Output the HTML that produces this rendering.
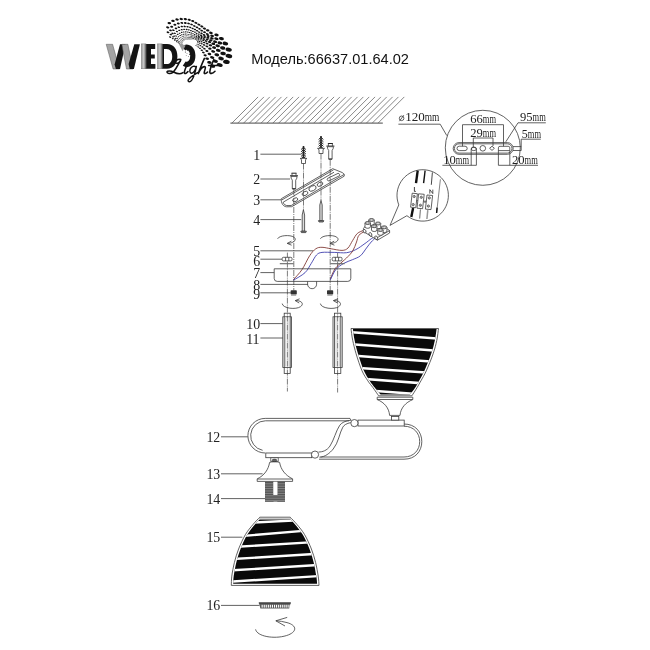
<!DOCTYPE html>
<html><head><meta charset="utf-8"><title>Wedo Light 66637.01.64.02</title>
<style>
html,body{margin:0;padding:0;background:#fff;}
body{width:650px;height:650px;overflow:hidden;font-family:"Liberation Sans",sans-serif;}
svg{display:block}
.ln{fill:none;stroke:#3a3a3a;stroke-width:0.8}
.lt{fill:none;stroke:#555;stroke-width:0.6}
.wf{fill:#fff;stroke:#3a3a3a;stroke-width:0.8}
text{filter:grayscale(1)}
.num{font-family:"Liberation Serif",serif;font-size:13.9px;fill:#222}
.dim{font-family:"Liberation Serif",serif;font-size:12.5px;fill:#222}
.dash{fill:none;stroke:#444;stroke-width:0.7;stroke-dasharray:6 1 1 1}
</style></head><body>
<svg width="650" height="650" viewBox="0 0 650 650">
<defs>
<linearGradient id="g1" x1="0" x2="1" y1="0" y2="0"><stop offset="0" stop-color="#999"/><stop offset="0.5" stop-color="#ccc"/><stop offset="1" stop-color="#555"/></linearGradient>
<linearGradient id="g2" x1="0" x2="1" y1="0" y2="0"><stop offset="0" stop-color="#111"/><stop offset="1" stop-color="#555"/></linearGradient>
<linearGradient id="gth" x1="0" x2="0" y1="0" y2="1"><stop offset="0" stop-color="#555"/><stop offset="1" stop-color="#888"/></linearGradient>
</defs>
<rect width="650" height="650" fill="#fff"/>

<g id="logo">
<g fill="#111"><ellipse cx="184.0" cy="45.6" rx="0.28" ry="0.17" transform="rotate(12 184.0 45.6)"/><ellipse cx="183.2" cy="45.4" rx="0.32" ry="0.20" transform="rotate(12 183.2 45.4)"/><ellipse cx="182.2" cy="45.1" rx="0.38" ry="0.24" transform="rotate(12 182.2 45.1)"/><ellipse cx="181.0" cy="44.7" rx="0.45" ry="0.28" transform="rotate(12 181.0 44.7)"/><ellipse cx="179.7" cy="44.0" rx="0.53" ry="0.33" transform="rotate(12 179.7 44.0)"/><ellipse cx="178.3" cy="43.0" rx="0.62" ry="0.38" transform="rotate(12 178.3 43.0)"/><ellipse cx="176.7" cy="41.8" rx="0.73" ry="0.45" transform="rotate(12 176.7 41.8)"/><ellipse cx="174.8" cy="40.2" rx="0.86" ry="0.53" transform="rotate(12 174.8 40.2)"/><ellipse cx="172.8" cy="38.6" rx="1.01" ry="0.63" transform="rotate(12 172.8 38.6)"/><ellipse cx="170.1" cy="37.1" rx="1.19" ry="0.74" transform="rotate(12 170.1 37.1)"/><ellipse cx="183.0" cy="45.0" rx="0.34" ry="0.21" transform="rotate(12 183.0 45.0)"/><ellipse cx="182.0" cy="44.6" rx="0.40" ry="0.25" transform="rotate(12 182.0 44.6)"/><ellipse cx="180.9" cy="44.1" rx="0.47" ry="0.29" transform="rotate(12 180.9 44.1)"/><ellipse cx="179.6" cy="43.3" rx="0.55" ry="0.34" transform="rotate(12 179.6 43.3)"/><ellipse cx="178.2" cy="42.3" rx="0.65" ry="0.40" transform="rotate(12 178.2 42.3)"/><ellipse cx="176.6" cy="40.9" rx="0.76" ry="0.47" transform="rotate(12 176.6 40.9)"/><ellipse cx="174.9" cy="39.1" rx="0.89" ry="0.55" transform="rotate(12 174.9 39.1)"/><ellipse cx="173.0" cy="36.9" rx="1.05" ry="0.65" transform="rotate(12 173.0 36.9)"/><ellipse cx="170.8" cy="34.6" rx="1.24" ry="0.77" transform="rotate(12 170.8 34.6)"/><ellipse cx="168.0" cy="32.3" rx="1.45" ry="0.90" transform="rotate(12 168.0 32.3)"/><ellipse cx="182.3" cy="44.1" rx="0.39" ry="0.24" transform="rotate(12 182.3 44.1)"/><ellipse cx="181.2" cy="43.5" rx="0.45" ry="0.28" transform="rotate(12 181.2 43.5)"/><ellipse cx="180.0" cy="42.7" rx="0.54" ry="0.33" transform="rotate(12 180.0 42.7)"/><ellipse cx="178.7" cy="41.7" rx="0.63" ry="0.39" transform="rotate(12 178.7 41.7)"/><ellipse cx="177.3" cy="40.3" rx="0.74" ry="0.46" transform="rotate(12 177.3 40.3)"/><ellipse cx="175.8" cy="38.4" rx="0.87" ry="0.54" transform="rotate(12 175.8 38.4)"/><ellipse cx="174.2" cy="36.1" rx="1.03" ry="0.64" transform="rotate(12 174.2 36.1)"/><ellipse cx="172.5" cy="33.4" rx="1.21" ry="0.75" transform="rotate(12 172.5 33.4)"/><ellipse cx="170.5" cy="30.4" rx="1.42" ry="0.88" transform="rotate(12 170.5 30.4)"/><ellipse cx="167.7" cy="27.4" rx="1.67" ry="1.03" transform="rotate(12 167.7 27.4)"/><ellipse cx="182.0" cy="43.0" rx="0.42" ry="0.26" transform="rotate(12 182.0 43.0)"/><ellipse cx="181.0" cy="42.3" rx="0.49" ry="0.31" transform="rotate(12 181.0 42.3)"/><ellipse cx="179.8" cy="41.3" rx="0.58" ry="0.36" transform="rotate(12 179.8 41.3)"/><ellipse cx="178.6" cy="39.9" rx="0.68" ry="0.42" transform="rotate(12 178.6 39.9)"/><ellipse cx="177.4" cy="38.2" rx="0.80" ry="0.50" transform="rotate(12 177.4 38.2)"/><ellipse cx="176.1" cy="36.0" rx="0.95" ry="0.59" transform="rotate(12 176.1 36.0)"/><ellipse cx="174.8" cy="33.3" rx="1.11" ry="0.69" transform="rotate(12 174.8 33.3)"/><ellipse cx="173.4" cy="30.2" rx="1.31" ry="0.81" transform="rotate(12 173.4 30.2)"/><ellipse cx="171.7" cy="26.7" rx="1.54" ry="0.96" transform="rotate(12 171.7 26.7)"/><ellipse cx="169.3" cy="23.1" rx="1.81" ry="1.12" transform="rotate(12 169.3 23.1)"/><ellipse cx="182.4" cy="42.1" rx="0.42" ry="0.26" transform="rotate(12 182.4 42.1)"/><ellipse cx="181.5" cy="41.2" rx="0.49" ry="0.31" transform="rotate(12 181.5 41.2)"/><ellipse cx="180.6" cy="40.1" rx="0.58" ry="0.36" transform="rotate(12 180.6 40.1)"/><ellipse cx="179.6" cy="38.6" rx="0.68" ry="0.42" transform="rotate(12 179.6 38.6)"/><ellipse cx="178.6" cy="36.7" rx="0.80" ry="0.50" transform="rotate(12 178.6 36.7)"/><ellipse cx="177.7" cy="34.4" rx="0.94" ry="0.58" transform="rotate(12 177.7 34.4)"/><ellipse cx="176.9" cy="31.6" rx="1.11" ry="0.69" transform="rotate(12 176.9 31.6)"/><ellipse cx="176.0" cy="28.4" rx="1.30" ry="0.81" transform="rotate(12 176.0 28.4)"/><ellipse cx="174.9" cy="24.7" rx="1.54" ry="0.95" transform="rotate(12 174.9 24.7)"/><ellipse cx="173.0" cy="20.9" rx="1.81" ry="1.12" transform="rotate(12 173.0 20.9)"/><ellipse cx="183.0" cy="41.3" rx="0.41" ry="0.26" transform="rotate(12 183.0 41.3)"/><ellipse cx="182.3" cy="40.4" rx="0.49" ry="0.30" transform="rotate(12 182.3 40.4)"/><ellipse cx="181.5" cy="39.1" rx="0.57" ry="0.35" transform="rotate(12 181.5 39.1)"/><ellipse cx="180.8" cy="37.6" rx="0.67" ry="0.42" transform="rotate(12 180.8 37.6)"/><ellipse cx="180.2" cy="35.6" rx="0.79" ry="0.49" transform="rotate(12 180.2 35.6)"/><ellipse cx="179.6" cy="33.3" rx="0.93" ry="0.58" transform="rotate(12 179.6 33.3)"/><ellipse cx="179.2" cy="30.4" rx="1.09" ry="0.68" transform="rotate(12 179.2 30.4)"/><ellipse cx="178.8" cy="27.2" rx="1.29" ry="0.80" transform="rotate(12 178.8 27.2)"/><ellipse cx="178.3" cy="23.5" rx="1.51" ry="0.94" transform="rotate(12 178.3 23.5)"/><ellipse cx="177.1" cy="19.5" rx="1.78" ry="1.10" transform="rotate(12 177.1 19.5)"/><ellipse cx="183.7" cy="40.7" rx="0.41" ry="0.25" transform="rotate(12 183.7 40.7)"/><ellipse cx="183.2" cy="39.6" rx="0.48" ry="0.30" transform="rotate(12 183.2 39.6)"/><ellipse cx="182.6" cy="38.3" rx="0.56" ry="0.35" transform="rotate(12 182.6 38.3)"/><ellipse cx="182.2" cy="36.7" rx="0.66" ry="0.41" transform="rotate(12 182.2 36.7)"/><ellipse cx="181.8" cy="34.8" rx="0.78" ry="0.48" transform="rotate(12 181.8 34.8)"/><ellipse cx="181.7" cy="32.4" rx="0.91" ry="0.57" transform="rotate(12 181.7 32.4)"/><ellipse cx="181.7" cy="29.7" rx="1.07" ry="0.67" transform="rotate(12 181.7 29.7)"/><ellipse cx="181.8" cy="26.5" rx="1.26" ry="0.78" transform="rotate(12 181.8 26.5)"/><ellipse cx="181.8" cy="22.9" rx="1.49" ry="0.92" transform="rotate(12 181.8 22.9)"/><ellipse cx="181.3" cy="19.0" rx="1.75" ry="1.08" transform="rotate(12 181.3 19.0)"/><ellipse cx="184.5" cy="40.1" rx="0.40" ry="0.25" transform="rotate(12 184.5 40.1)"/><ellipse cx="184.1" cy="39.1" rx="0.47" ry="0.29" transform="rotate(12 184.1 39.1)"/><ellipse cx="183.8" cy="37.8" rx="0.55" ry="0.34" transform="rotate(12 183.8 37.8)"/><ellipse cx="183.6" cy="36.2" rx="0.65" ry="0.40" transform="rotate(12 183.6 36.2)"/><ellipse cx="183.6" cy="34.3" rx="0.76" ry="0.47" transform="rotate(12 183.6 34.3)"/><ellipse cx="183.7" cy="32.0" rx="0.89" ry="0.55" transform="rotate(12 183.7 32.0)"/><ellipse cx="184.1" cy="29.4" rx="1.05" ry="0.65" transform="rotate(12 184.1 29.4)"/><ellipse cx="184.7" cy="26.4" rx="1.24" ry="0.77" transform="rotate(12 184.7 26.4)"/><ellipse cx="185.3" cy="23.0" rx="1.46" ry="0.90" transform="rotate(12 185.3 23.0)"/><ellipse cx="185.3" cy="19.1" rx="1.71" ry="1.06" transform="rotate(12 185.3 19.1)"/><ellipse cx="185.3" cy="39.8" rx="0.39" ry="0.24" transform="rotate(12 185.3 39.8)"/><ellipse cx="185.1" cy="38.7" rx="0.46" ry="0.28" transform="rotate(12 185.1 38.7)"/><ellipse cx="185.0" cy="37.4" rx="0.54" ry="0.33" transform="rotate(12 185.0 37.4)"/><ellipse cx="185.1" cy="35.8" rx="0.63" ry="0.39" transform="rotate(12 185.1 35.8)"/><ellipse cx="185.3" cy="34.0" rx="0.74" ry="0.46" transform="rotate(12 185.3 34.0)"/><ellipse cx="185.8" cy="31.9" rx="0.87" ry="0.54" transform="rotate(12 185.8 31.9)"/><ellipse cx="186.6" cy="29.5" rx="1.03" ry="0.64" transform="rotate(12 186.6 29.5)"/><ellipse cx="187.5" cy="26.7" rx="1.21" ry="0.75" transform="rotate(12 187.5 26.7)"/><ellipse cx="188.6" cy="23.5" rx="1.42" ry="0.88" transform="rotate(12 188.6 23.5)"/><ellipse cx="189.2" cy="19.8" rx="1.67" ry="1.04" transform="rotate(12 189.2 19.8)"/><ellipse cx="186.2" cy="39.5" rx="0.38" ry="0.23" transform="rotate(12 186.2 39.5)"/><ellipse cx="186.1" cy="38.5" rx="0.45" ry="0.28" transform="rotate(12 186.1 38.5)"/><ellipse cx="186.2" cy="37.2" rx="0.52" ry="0.32" transform="rotate(12 186.2 37.2)"/><ellipse cx="186.5" cy="35.8" rx="0.62" ry="0.38" transform="rotate(12 186.5 35.8)"/><ellipse cx="187.0" cy="34.1" rx="0.73" ry="0.45" transform="rotate(12 187.0 34.1)"/><ellipse cx="187.8" cy="32.1" rx="0.85" ry="0.53" transform="rotate(12 187.8 32.1)"/><ellipse cx="188.8" cy="29.9" rx="1.00" ry="0.62" transform="rotate(12 188.8 29.9)"/><ellipse cx="190.2" cy="27.4" rx="1.18" ry="0.73" transform="rotate(12 190.2 27.4)"/><ellipse cx="191.6" cy="24.5" rx="1.39" ry="0.86" transform="rotate(12 191.6 24.5)"/><ellipse cx="192.7" cy="21.1" rx="1.63" ry="1.01" transform="rotate(12 192.7 21.1)"/><ellipse cx="187.0" cy="39.4" rx="0.37" ry="0.23" transform="rotate(12 187.0 39.4)"/><ellipse cx="187.1" cy="38.4" rx="0.43" ry="0.27" transform="rotate(12 187.1 38.4)"/><ellipse cx="187.4" cy="37.3" rx="0.51" ry="0.32" transform="rotate(12 187.4 37.3)"/><ellipse cx="187.9" cy="35.9" rx="0.60" ry="0.37" transform="rotate(12 187.9 35.9)"/><ellipse cx="188.6" cy="34.4" rx="0.71" ry="0.44" transform="rotate(12 188.6 34.4)"/><ellipse cx="189.6" cy="32.6" rx="0.83" ry="0.52" transform="rotate(12 189.6 32.6)"/><ellipse cx="190.9" cy="30.7" rx="0.98" ry="0.61" transform="rotate(12 190.9 30.7)"/><ellipse cx="192.6" cy="28.5" rx="1.15" ry="0.71" transform="rotate(12 192.6 28.5)"/><ellipse cx="194.4" cy="26.0" rx="1.35" ry="0.84" transform="rotate(12 194.4 26.0)"/><ellipse cx="195.9" cy="22.9" rx="1.59" ry="0.99" transform="rotate(12 195.9 22.9)"/><ellipse cx="187.8" cy="39.3" rx="0.37" ry="0.23" transform="rotate(12 187.8 39.3)"/><ellipse cx="188.1" cy="38.4" rx="0.43" ry="0.27" transform="rotate(12 188.1 38.4)"/><ellipse cx="188.5" cy="37.3" rx="0.51" ry="0.32" transform="rotate(12 188.5 37.3)"/><ellipse cx="189.1" cy="36.0" rx="0.60" ry="0.37" transform="rotate(12 189.1 36.0)"/><ellipse cx="190.1" cy="34.6" rx="0.71" ry="0.44" transform="rotate(12 190.1 34.6)"/><ellipse cx="191.3" cy="33.1" rx="0.83" ry="0.52" transform="rotate(12 191.3 33.1)"/><ellipse cx="192.9" cy="31.4" rx="0.98" ry="0.61" transform="rotate(12 192.9 31.4)"/><ellipse cx="194.9" cy="29.5" rx="1.15" ry="0.71" transform="rotate(12 194.9 29.5)"/><ellipse cx="197.0" cy="27.4" rx="1.35" ry="0.84" transform="rotate(12 197.0 27.4)"/><ellipse cx="198.9" cy="24.6" rx="1.59" ry="0.99" transform="rotate(12 198.9 24.6)"/><ellipse cx="188.6" cy="39.3" rx="0.37" ry="0.23" transform="rotate(12 188.6 39.3)"/><ellipse cx="189.0" cy="38.4" rx="0.44" ry="0.27" transform="rotate(12 189.0 38.4)"/><ellipse cx="189.6" cy="37.4" rx="0.52" ry="0.32" transform="rotate(12 189.6 37.4)"/><ellipse cx="190.4" cy="36.2" rx="0.61" ry="0.38" transform="rotate(12 190.4 36.2)"/><ellipse cx="191.5" cy="35.0" rx="0.72" ry="0.44" transform="rotate(12 191.5 35.0)"/><ellipse cx="193.0" cy="33.7" rx="0.84" ry="0.52" transform="rotate(12 193.0 33.7)"/><ellipse cx="194.9" cy="32.2" rx="0.99" ry="0.61" transform="rotate(12 194.9 32.2)"/><ellipse cx="197.0" cy="30.7" rx="1.17" ry="0.72" transform="rotate(12 197.0 30.7)"/><ellipse cx="199.5" cy="28.8" rx="1.37" ry="0.85" transform="rotate(12 199.5 28.8)"/><ellipse cx="201.8" cy="26.4" rx="1.61" ry="1.00" transform="rotate(12 201.8 26.4)"/><ellipse cx="189.4" cy="39.4" rx="0.38" ry="0.24" transform="rotate(12 189.4 39.4)"/><ellipse cx="189.9" cy="38.5" rx="0.45" ry="0.28" transform="rotate(12 189.9 38.5)"/><ellipse cx="190.7" cy="37.6" rx="0.52" ry="0.33" transform="rotate(12 190.7 37.6)"/><ellipse cx="191.6" cy="36.6" rx="0.62" ry="0.38" transform="rotate(12 191.6 36.6)"/><ellipse cx="193.0" cy="35.6" rx="0.73" ry="0.45" transform="rotate(12 193.0 35.6)"/><ellipse cx="194.6" cy="34.5" rx="0.85" ry="0.53" transform="rotate(12 194.6 34.5)"/><ellipse cx="196.6" cy="33.3" rx="1.01" ry="0.62" transform="rotate(12 196.6 33.3)"/><ellipse cx="199.0" cy="32.1" rx="1.18" ry="0.73" transform="rotate(12 199.0 32.1)"/><ellipse cx="201.7" cy="30.7" rx="1.39" ry="0.86" transform="rotate(12 201.7 30.7)"/><ellipse cx="204.4" cy="28.6" rx="1.64" ry="1.01" transform="rotate(12 204.4 28.6)"/><ellipse cx="190.2" cy="39.3" rx="0.41" ry="0.25" transform="rotate(12 190.2 39.3)"/><ellipse cx="190.9" cy="38.5" rx="0.48" ry="0.30" transform="rotate(12 190.9 38.5)"/><ellipse cx="191.8" cy="37.6" rx="0.56" ry="0.35" transform="rotate(12 191.8 37.6)"/><ellipse cx="193.0" cy="36.8" rx="0.66" ry="0.41" transform="rotate(12 193.0 36.8)"/><ellipse cx="194.6" cy="35.9" rx="0.78" ry="0.48" transform="rotate(12 194.6 35.9)"/><ellipse cx="196.5" cy="35.0" rx="0.92" ry="0.57" transform="rotate(12 196.5 35.0)"/><ellipse cx="198.8" cy="34.1" rx="1.08" ry="0.67" transform="rotate(12 198.8 34.1)"/><ellipse cx="201.5" cy="33.3" rx="1.27" ry="0.79" transform="rotate(12 201.5 33.3)"/><ellipse cx="204.5" cy="32.2" rx="1.49" ry="0.92" transform="rotate(12 204.5 32.2)"/><ellipse cx="207.7" cy="30.4" rx="1.75" ry="1.09" transform="rotate(12 207.7 30.4)"/><ellipse cx="191.2" cy="39.3" rx="0.44" ry="0.27" transform="rotate(12 191.2 39.3)"/><ellipse cx="192.0" cy="38.6" rx="0.51" ry="0.32" transform="rotate(12 192.0 38.6)"/><ellipse cx="193.1" cy="37.9" rx="0.60" ry="0.37" transform="rotate(12 193.1 37.9)"/><ellipse cx="194.5" cy="37.1" rx="0.71" ry="0.44" transform="rotate(12 194.5 37.1)"/><ellipse cx="196.3" cy="36.4" rx="0.84" ry="0.52" transform="rotate(12 196.3 36.4)"/><ellipse cx="198.4" cy="35.8" rx="0.98" ry="0.61" transform="rotate(12 198.4 35.8)"/><ellipse cx="200.9" cy="35.3" rx="1.16" ry="0.72" transform="rotate(12 200.9 35.3)"/><ellipse cx="203.9" cy="34.8" rx="1.36" ry="0.84" transform="rotate(12 203.9 34.8)"/><ellipse cx="207.3" cy="34.1" rx="1.60" ry="0.99" transform="rotate(12 207.3 34.1)"/><ellipse cx="210.9" cy="32.8" rx="1.88" ry="1.17" transform="rotate(12 210.9 32.8)"/><ellipse cx="192.5" cy="38.9" rx="0.52" ry="0.32" transform="rotate(12 192.5 38.9)"/><ellipse cx="193.6" cy="38.3" rx="0.61" ry="0.38" transform="rotate(12 193.6 38.3)"/><ellipse cx="195.0" cy="37.6" rx="0.72" ry="0.44" transform="rotate(12 195.0 37.6)"/><ellipse cx="196.8" cy="37.0" rx="0.84" ry="0.52" transform="rotate(12 196.8 37.0)"/><ellipse cx="198.9" cy="36.5" rx="0.99" ry="0.62" transform="rotate(12 198.9 36.5)"/><ellipse cx="201.5" cy="36.2" rx="1.17" ry="0.72" transform="rotate(12 201.5 36.2)"/><ellipse cx="204.6" cy="36.0" rx="1.37" ry="0.85" transform="rotate(12 204.6 36.0)"/><ellipse cx="208.1" cy="36.0" rx="1.62" ry="1.00" transform="rotate(12 208.1 36.0)"/><ellipse cx="212.1" cy="35.8" rx="1.90" ry="1.18" transform="rotate(12 212.1 35.8)"/><ellipse cx="216.5" cy="34.9" rx="2.24" ry="1.39" transform="rotate(12 216.5 34.9)"/><ellipse cx="193.9" cy="39.0" rx="0.59" ry="0.37" transform="rotate(12 193.9 39.0)"/><ellipse cx="195.3" cy="38.4" rx="0.70" ry="0.43" transform="rotate(12 195.3 38.4)"/><ellipse cx="197.0" cy="37.9" rx="0.82" ry="0.51" transform="rotate(12 197.0 37.9)"/><ellipse cx="199.0" cy="37.5" rx="0.97" ry="0.60" transform="rotate(12 199.0 37.5)"/><ellipse cx="201.5" cy="37.4" rx="1.14" ry="0.71" transform="rotate(12 201.5 37.4)"/><ellipse cx="204.5" cy="37.4" rx="1.34" ry="0.83" transform="rotate(12 204.5 37.4)"/><ellipse cx="207.9" cy="37.8" rx="1.57" ry="0.98" transform="rotate(12 207.9 37.8)"/><ellipse cx="211.9" cy="38.3" rx="1.85" ry="1.15" transform="rotate(12 211.9 38.3)"/><ellipse cx="216.4" cy="38.8" rx="2.18" ry="1.35" transform="rotate(12 216.4 38.8)"/><ellipse cx="221.4" cy="38.6" rx="2.56" ry="1.59" transform="rotate(12 221.4 38.6)"/><ellipse cx="195.3" cy="39.4" rx="0.66" ry="0.41" transform="rotate(12 195.3 39.4)"/><ellipse cx="196.9" cy="39.0" rx="0.78" ry="0.48" transform="rotate(12 196.9 39.0)"/><ellipse cx="198.8" cy="38.7" rx="0.92" ry="0.57" transform="rotate(12 198.8 38.7)"/><ellipse cx="201.2" cy="38.7" rx="1.08" ry="0.67" transform="rotate(12 201.2 38.7)"/><ellipse cx="203.9" cy="38.9" rx="1.27" ry="0.79" transform="rotate(12 203.9 38.9)"/><ellipse cx="207.1" cy="39.4" rx="1.50" ry="0.93" transform="rotate(12 207.1 39.4)"/><ellipse cx="210.8" cy="40.4" rx="1.76" ry="1.09" transform="rotate(12 210.8 40.4)"/><ellipse cx="215.1" cy="41.7" rx="2.07" ry="1.28" transform="rotate(12 215.1 41.7)"/><ellipse cx="219.9" cy="42.9" rx="2.44" ry="1.51" transform="rotate(12 219.9 42.9)"/><ellipse cx="225.4" cy="43.5" rx="2.87" ry="1.78" transform="rotate(12 225.4 43.5)"/><ellipse cx="196.8" cy="40.1" rx="0.74" ry="0.46" transform="rotate(12 196.8 40.1)"/><ellipse cx="198.5" cy="39.9" rx="0.87" ry="0.54" transform="rotate(12 198.5 39.9)"/><ellipse cx="200.7" cy="40.0" rx="1.02" ry="0.63" transform="rotate(12 200.7 40.0)"/><ellipse cx="203.2" cy="40.3" rx="1.20" ry="0.74" transform="rotate(12 203.2 40.3)"/><ellipse cx="206.1" cy="41.0" rx="1.41" ry="0.87" transform="rotate(12 206.1 41.0)"/><ellipse cx="209.5" cy="42.1" rx="1.66" ry="1.03" transform="rotate(12 209.5 42.1)"/><ellipse cx="213.3" cy="43.8" rx="1.95" ry="1.21" transform="rotate(12 213.3 43.8)"/><ellipse cx="217.7" cy="45.8" rx="2.30" ry="1.42" transform="rotate(12 217.7 45.8)"/><ellipse cx="222.7" cy="48.0" rx="2.70" ry="1.68" transform="rotate(12 222.7 48.0)"/><ellipse cx="228.7" cy="49.6" rx="3.18" ry="1.97" transform="rotate(12 228.7 49.6)"/><ellipse cx="197.7" cy="41.3" rx="0.77" ry="0.48" transform="rotate(12 197.7 41.3)"/><ellipse cx="199.5" cy="41.4" rx="0.91" ry="0.56" transform="rotate(12 199.5 41.4)"/><ellipse cx="201.7" cy="41.8" rx="1.07" ry="0.66" transform="rotate(12 201.7 41.8)"/><ellipse cx="204.2" cy="42.5" rx="1.26" ry="0.78" transform="rotate(12 204.2 42.5)"/><ellipse cx="207.1" cy="43.6" rx="1.48" ry="0.92" transform="rotate(12 207.1 43.6)"/><ellipse cx="210.4" cy="45.3" rx="1.74" ry="1.08" transform="rotate(12 210.4 45.3)"/><ellipse cx="214.1" cy="47.6" rx="2.05" ry="1.27" transform="rotate(12 214.1 47.6)"/><ellipse cx="218.3" cy="50.4" rx="2.41" ry="1.50" transform="rotate(12 218.3 50.4)"/><ellipse cx="223.1" cy="53.5" rx="2.84" ry="1.76" transform="rotate(12 223.1 53.5)"/><ellipse cx="228.9" cy="56.0" rx="3.34" ry="2.07" transform="rotate(12 228.9 56.0)"/><ellipse cx="198.0" cy="42.7" rx="0.78" ry="0.48" transform="rotate(12 198.0 42.7)"/><ellipse cx="199.8" cy="43.1" rx="0.92" ry="0.57" transform="rotate(12 199.8 43.1)"/><ellipse cx="201.8" cy="43.8" rx="1.08" ry="0.67" transform="rotate(12 201.8 43.8)"/><ellipse cx="204.2" cy="44.9" rx="1.27" ry="0.79" transform="rotate(12 204.2 44.9)"/><ellipse cx="206.9" cy="46.4" rx="1.49" ry="0.92" transform="rotate(12 206.9 46.4)"/><ellipse cx="209.9" cy="48.6" rx="1.75" ry="1.09" transform="rotate(12 209.9 48.6)"/><ellipse cx="213.2" cy="51.4" rx="2.06" ry="1.28" transform="rotate(12 213.2 51.4)"/><ellipse cx="216.8" cy="54.8" rx="2.43" ry="1.50" transform="rotate(12 216.8 54.8)"/><ellipse cx="221.1" cy="58.5" rx="2.85" ry="1.77" transform="rotate(12 221.1 58.5)"/><ellipse cx="226.4" cy="61.9" rx="3.36" ry="2.08" transform="rotate(12 226.4 61.9)"/><ellipse cx="197.1" cy="44.2" rx="0.71" ry="0.44" transform="rotate(12 197.1 44.2)"/><ellipse cx="198.7" cy="44.8" rx="0.83" ry="0.51" transform="rotate(12 198.7 44.8)"/><ellipse cx="200.4" cy="45.7" rx="0.98" ry="0.61" transform="rotate(12 200.4 45.7)"/><ellipse cx="202.4" cy="47.0" rx="1.15" ry="0.71" transform="rotate(12 202.4 47.0)"/><ellipse cx="204.5" cy="48.7" rx="1.35" ry="0.84" transform="rotate(12 204.5 48.7)"/><ellipse cx="206.9" cy="51.0" rx="1.59" ry="0.99" transform="rotate(12 206.9 51.0)"/><ellipse cx="209.4" cy="54.0" rx="1.87" ry="1.16" transform="rotate(12 209.4 54.0)"/><ellipse cx="212.2" cy="57.5" rx="2.20" ry="1.36" transform="rotate(12 212.2 57.5)"/><ellipse cx="215.4" cy="61.3" rx="2.59" ry="1.60" transform="rotate(12 215.4 61.3)"/><ellipse cx="219.7" cy="65.0" rx="3.04" ry="1.89" transform="rotate(12 219.7 65.0)"/><ellipse cx="195.9" cy="45.4" rx="0.62" ry="0.38" transform="rotate(12 195.9 45.4)"/><ellipse cx="197.2" cy="46.1" rx="0.73" ry="0.45" transform="rotate(12 197.2 46.1)"/><ellipse cx="198.5" cy="47.1" rx="0.86" ry="0.53" transform="rotate(12 198.5 47.1)"/><ellipse cx="200.0" cy="48.4" rx="1.01" ry="0.62" transform="rotate(12 200.0 48.4)"/><ellipse cx="201.7" cy="50.2" rx="1.18" ry="0.73" transform="rotate(12 201.7 50.2)"/><ellipse cx="203.4" cy="52.5" rx="1.39" ry="0.86" transform="rotate(12 203.4 52.5)"/><ellipse cx="205.1" cy="55.3" rx="1.64" ry="1.02" transform="rotate(12 205.1 55.3)"/><ellipse cx="207.1" cy="58.7" rx="1.93" ry="1.19" transform="rotate(12 207.1 58.7)"/><ellipse cx="209.4" cy="62.4" rx="2.27" ry="1.41" transform="rotate(12 209.4 62.4)"/><ellipse cx="212.5" cy="66.1" rx="2.67" ry="1.65" transform="rotate(12 212.5 66.1)"/></g>
<polygon points="106.2,44.3 112.6,44.3 119.5,69 113.1,69" fill="#a4a4a4" stroke="#555" stroke-width="0.5"/>
<polygon points="120,44.3 125.5,44.3 120,69 115.9,69 114.6,64.5" fill="#141414"/>
<polygon points="121.9,44.3 127.9,44.3 133,69 126.5,69 123.4,53" fill="#a4a4a4" stroke="#555" stroke-width="0.5"/>
<polygon points="134.3,44.3 139.9,44.3 133.9,69 129.7,69 128.6,64" fill="#141414"/>
<path d="M145.6,43.9H155.2V48.9H151V54.4H154.8V58.6H151V64.1H155.4V68.8H145.6Z" fill="#141414"/>
<rect x="141.4" y="43.9" width="4.7" height="24.9" fill="url(#g1)" stroke="#666" stroke-width="0.4"/>
<path d="M162,43.9H167C173.6,43.9 177.4,48.8 177.4,56.3C177.4,63.8 173.6,68.8 167,68.8H162Z M164,48.9V64.1H166.6C170.2,64.1 172.2,61 172.2,56.4C172.2,51.8 170.2,48.9 166.6,48.9Z" fill="#141414" fill-rule="evenodd"/>
<rect x="157.5" y="43.9" width="5" height="24.9" fill="url(#g1)" stroke="#666" stroke-width="0.4"/>
<path d="M183.6,48.4A6.1,8.6 0 1 1 184.2,63.6" fill="none" stroke="#141414" stroke-width="5.2"/>
<path d="M178.6,43.6L185.6,45.4L182.6,51.2Z" fill="#999"/>
<g fill="#222"><circle cx="185.4" cy="52" r="0.5"/><circle cx="187.4" cy="50.6" r="0.5"/><circle cx="189.4" cy="51.6" r="0.5"/><circle cx="187" cy="53.6" r="0.45"/><circle cx="189.6" cy="54.4" r="0.5"/><circle cx="188.4" cy="56.6" r="0.45"/><circle cx="190.4" cy="57.6" r="0.45"/><circle cx="186.2" cy="55.6" r="0.4"/></g>
<g fill="none" stroke="#111" stroke-linecap="round" stroke-linejoin="round">
<path d="M180.6,59.4C177.6,59 175,60.4 175.6,62.4C176.4,64.6 180.6,62.4 180.8,59.6C178.6,64 175.4,70.4 172.6,72.6C170.4,74.2 167.2,73.6 167,72.2C166.8,70.6 170.8,70.6 174,72.2C177,73.8 180.4,74.4 183,72.6" stroke-width="1.55"/>
<path d="M186.4,66.2C185.4,68.4 184.2,71.2 184.4,72.8C184.6,74.2 186.6,73.4 188,71.6" stroke-width="1.55"/>
<circle cx="187.6" cy="63" r="0.8" fill="#111" stroke="none"/>
<path d="M196,67C194.4,65.6 191.6,66.2 190.4,68.6C189.2,71 190,73.4 191.8,73.2C193.8,73 195.4,69.8 196.4,66.4C195.6,70.6 194.2,77 191.6,80.4C190,82.6 187.6,82 188.2,80C188.8,78 193,75.4 197.6,72.6" stroke-width="1.45"/>
<path d="M204.4,58.4C202.4,63 199.6,69.6 198.2,73.6C199.6,70.4 202.4,66.6 204.4,66.6C206.6,66.6 204.4,70.6 204.2,72.6C204,74.2 206,73.8 207.6,72" stroke-width="1.55"/>
<path d="M213.8,59.6C212,63.6 210.2,68.6 209.8,71.8C209.6,74.2 212.4,73.8 215,71.2M208.6,65.4H217.6" stroke-width="1.55"/>
</g>
</g>
<text x="251.2" y="64" textLength="157.8" lengthAdjust="spacingAndGlyphs" style="font-family:'Liberation Sans',sans-serif;font-size:15.3px" fill="#111">Модель:66637.01.64.02</text>
<g fill="none" stroke="#555" stroke-width="0.7">
<line x1="230.4" y1="123.1" x2="382.8" y2="123.1" stroke="#333" stroke-width="0.9"/>
<line x1="231.90" y1="123.1" x2="258.10" y2="96.9"/>
<line x1="237.75" y1="123.1" x2="263.95" y2="96.9"/>
<line x1="243.60" y1="123.1" x2="269.80" y2="96.9"/>
<line x1="249.44" y1="123.1" x2="275.64" y2="96.9"/>
<line x1="255.29" y1="123.1" x2="281.49" y2="96.9"/>
<line x1="261.14" y1="123.1" x2="287.34" y2="96.9"/>
<line x1="266.99" y1="123.1" x2="293.19" y2="96.9"/>
<line x1="272.84" y1="123.1" x2="299.04" y2="96.9"/>
<line x1="278.68" y1="123.1" x2="304.88" y2="96.9"/>
<line x1="284.53" y1="123.1" x2="310.73" y2="96.9"/>
<line x1="290.38" y1="123.1" x2="316.58" y2="96.9"/>
<line x1="296.23" y1="123.1" x2="322.43" y2="96.9"/>
<line x1="302.08" y1="123.1" x2="328.28" y2="96.9"/>
<line x1="307.92" y1="123.1" x2="334.12" y2="96.9"/>
<line x1="313.77" y1="123.1" x2="339.97" y2="96.9"/>
<line x1="319.62" y1="123.1" x2="345.82" y2="96.9"/>
<line x1="325.47" y1="123.1" x2="351.67" y2="96.9"/>
<line x1="331.32" y1="123.1" x2="357.52" y2="96.9"/>
<line x1="337.16" y1="123.1" x2="363.36" y2="96.9"/>
<line x1="343.01" y1="123.1" x2="369.21" y2="96.9"/>
<line x1="348.86" y1="123.1" x2="375.06" y2="96.9"/>
<line x1="354.71" y1="123.1" x2="380.91" y2="96.9"/>
<line x1="360.56" y1="123.1" x2="386.76" y2="96.9"/>
<line x1="366.40" y1="123.1" x2="392.60" y2="96.9"/>
<line x1="372.25" y1="123.1" x2="398.45" y2="96.9"/>
<line x1="378.10" y1="123.1" x2="404.30" y2="96.9"/>
</g><!-- ========== DIMENSION DETAIL (top right) ========== -->
<g id="detail">
<circle class="ln" cx="482.8" cy="147.8" r="37.5"/>
<circle class="ln" cx="401.6" cy="118.3" r="2.3" stroke-width="0.8"/><path class="ln" d="M399.4,121.2L403.8,115.2" stroke-width="0.7"/>
<text class="dim" x="405.2" y="121"><tspan textLength="19.6" lengthAdjust="spacingAndGlyphs">120</tspan><tspan font-size="12px" textLength="14.6" lengthAdjust="spacingAndGlyphs">mm</tspan></text>
<path class="ln" d="M398.4,124.2H440.2L446.8,135.6"/>
<text class="dim" x="470.2" y="123.4"><tspan textLength="12.6" lengthAdjust="spacingAndGlyphs">66</tspan><tspan font-size="12px" textLength="13.2" lengthAdjust="spacingAndGlyphs">mm</tspan></text>
<path class="ln" d="M462.5,146.3V124.7H503.5V146.3"/>
<text class="dim" x="470.2" y="136.8"><tspan textLength="12.6" lengthAdjust="spacingAndGlyphs">29</tspan><tspan font-size="12px" textLength="13.2" lengthAdjust="spacingAndGlyphs">mm</tspan></text>
<path class="ln" d="M473.3,147V138H493V146"/>
<text class="dim" x="520" y="121"><tspan textLength="12.6" lengthAdjust="spacingAndGlyphs">95</tspan><tspan font-size="12px" textLength="13.2" lengthAdjust="spacingAndGlyphs">mm</tspan></text>
<path class="ln" d="M545.8,122.8H518L505.8,141.8"/>
<text class="dim" x="521.8" y="137.8"><tspan textLength="6" lengthAdjust="spacingAndGlyphs">5</tspan><tspan font-size="12px" textLength="13.2" lengthAdjust="spacingAndGlyphs">mm</tspan></text>
<path class="ln" d="M540.8,139.2H521.2V150.5"/>
<path class="ln" d="M513,146.6H521.2M513,150.5H521.2"/>
<!-- plate -->
<rect class="ln" x="453.2" y="142.6" width="60" height="11.7" rx="5.85"/>
<rect class="ln" x="454.4" y="143.8" width="57.6" height="9.3" rx="4.65" stroke-width="0.5"/>
<rect class="ln" x="457" y="146.2" width="10.2" height="4.4" rx="2.2"/>
<path class="ln" d="M471.2,165.3V149A2.6,2 0 0 1 476.4,149V165.3"/>
<ellipse class="ln" cx="473.8" cy="149" rx="2.6" ry="1.6"/>
<circle class="ln" cx="482.8" cy="148.3" r="2.8"/>
<path class="ln" d="M489.6,148.3L492,146.2L494.4,148.3L492,150.4Z"/>
<path class="ln" d="M498.4,165.3V147.8Q498.4,146.3 500,146.3H508.2Q509.8,146.3 509.8,147.8V165.3M498.4,150.6H509.8"/>
<text class="dim" x="443.2" y="164"><tspan textLength="12.6" lengthAdjust="spacingAndGlyphs">10</tspan><tspan font-size="12px" textLength="13.2" lengthAdjust="spacingAndGlyphs">mm</tspan></text>
<path class="ln" d="M442.4,165.3H476.4"/>
<text class="dim" x="512" y="164"><tspan textLength="12.6" lengthAdjust="spacingAndGlyphs">20</tspan><tspan font-size="12px" textLength="13.2" lengthAdjust="spacingAndGlyphs">mm</tspan></text>
<path class="ln" d="M538,165.3H498.4"/>
</g>

<!-- ========== WIRING CALLOUT ========== -->
<g id="callout">
<path class="ln" d="M398.8,204.9A25.7,25.7 0 1 1 406.9,215.7L390,225.4Z" fill="#fff"/>
<!-- wires inside -->
<path d="M417.7,170.6L416,183.2" stroke="#111" stroke-width="2.4" fill="none"/>
<path d="M413.1,208L411.3,217" stroke="#111" stroke-width="2.4" fill="none"/>
<path d="M425.1,170.6L423.6,183.2" stroke="#111" stroke-width="1.4" fill="none"/>
<path d="M420.4,209.4L419.7,218.6" stroke="#444" stroke-width="0.8" fill="none"/>
<path d="M432.4,172.4L431.3,184.8" stroke="#333" stroke-width="0.9" fill="none"/>
<path d="M427.8,210.2L426.9,219" stroke="#999" stroke-width="1.5" fill="none"/>
<path d="M440.4,179.3L436.6,213" stroke="#333" stroke-width="0.6" fill="none"/>
<path d="M437.1,207.6L436.6,213" stroke="#111" stroke-width="1.4" fill="none"/>
<!-- terminals -->
<g class="ln" stroke-width="0.75" stroke="#222">
<path d="M412.2,193.2L417.4,193.7L415.8,207.7L410.6,207.2Z" fill="#fff"/>
<path d="M418.6,193.8L424.2,194.3L422.6,208.7L417,208.2Z" fill="#fff"/>
<path d="M427,195L432.6,195.5L431,209.6L425.4,209.1Z" fill="#fff"/>
<circle cx="414.2" cy="196.5" r="1.1"/><circle cx="413.2" cy="204.6" r="1.1"/>
<circle cx="421.3" cy="197.3" r="1.1"/><circle cx="420.4" cy="205.3" r="1.1"/>
<circle cx="429.3" cy="197.9" r="1.1"/><circle cx="428.4" cy="206.1" r="1.1"/>
<circle cx="425" cy="201.6" r="0.8"/>
<path d="M416.6,200.6H417.8"/>
</g>
<g fill="#222"><circle cx="414.2" cy="196.5" r="0.45"/><circle cx="413.2" cy="204.6" r="0.45"/><circle cx="421.3" cy="197.3" r="0.45"/><circle cx="420.4" cy="205.3" r="0.45"/><circle cx="429.3" cy="197.9" r="0.45"/><circle cx="428.4" cy="206.1" r="0.45"/></g>
<path d="M414.4,187V191.4H415.8" stroke="#111" stroke-width="0.8" fill="none"/>
<path d="M429.8,193.6V189.6L432.8,193.6V189.6" stroke="#111" stroke-width="0.7" fill="none"/>
</g>

<!-- ========== PARTS 1-4 ========== -->
<g id="p1to4">
<!-- dowel 1 -->
<g class="ln" stroke-width="0.7"><path d="M303.5,146.0V158.0" stroke="#222" stroke-width="1.6"/><path d="M301.1,149.5L303.5,147.3L305.9,149.5M301.1,151.8L303.5,149.6L305.9,151.8M301.1,154.1L303.5,151.9L305.9,154.1M301.1,156.4L303.5,154.2L305.9,156.4M301.1,158.7L303.5,156.5L305.9,158.7" stroke="#222" stroke-width="1"/><path d="M300.0,158.4H307.0L305.5,159.6V163.5H301.5V159.6Z" fill="#fff"/></g>
<g class="ln" stroke-width="0.7"><path d="M321.0,136.0V148.0" stroke="#222" stroke-width="1.6"/><path d="M318.6,139.5L321.0,137.3L323.4,139.5M318.6,141.8L321.0,139.6L323.4,141.8M318.6,144.1L321.0,141.9L323.4,144.1M318.6,146.4L321.0,144.2L323.4,146.4M318.6,148.7L321.0,146.5L323.4,148.7" stroke="#222" stroke-width="1"/><path d="M317.5,148.4H324.5L323.0,149.6V153.5H319.0V149.6Z" fill="#fff"/></g>
<g class="ln" stroke-width="0.7"><path d="M327.9,143.5H332.9M326.4,146.1H334.4" stroke="#222" stroke-width="1"/><path d="M328.4,143.5V146.1M332.4,143.5V146.1"/><path d="M327.4,146.7H333.4L333.2,148.5L332.1,150.5V159.1H328.7V150.5L327.6,148.5Z" fill="#fff"/><path d="M328.7,159.1H332.1" stroke="#222" stroke-width="1"/></g>
<g class="ln" stroke-width="0.7"><path d="M291.5,173.2H296.5M290.0,175.8H298.0" stroke="#222" stroke-width="1"/><path d="M292.0,173.2V175.8M296.0,173.2V175.8"/><path d="M291.0,176.4H297.0L296.8,178.2L295.7,180.2V188.8H292.3V180.2L291.2,178.2Z" fill="#fff"/><path d="M292.3,188.8H295.7" stroke="#222" stroke-width="1"/></g>
<!-- bracket 3 -->
<g class="ln" stroke-width="0.75">
<path d="M281.3,198.7L332.7,168.7L334,169.2L342.6,172.7L344.2,174.4V176.2L291.7,206.7L286.5,206.8C283,206.5 281,203 281.3,198.7Z" fill="#fff"/>
<path d="M281.9,199.9L333.4,169.9M283.2,202.2L334,172.2M291.2,205.5L344.2,174.4M283.2,202.2C283.6,204.4 285.6,205.8 288,205.6L291.2,205.5"/>
<ellipse cx="295.2" cy="199.8" rx="2.7" ry="1.7" transform="rotate(-27 295.2 199.8)"/>
<ellipse cx="305" cy="193.5" rx="3.1" ry="1.9" transform="rotate(-27 305 193.5)"/>
<ellipse cx="312.5" cy="188.4" rx="3.9" ry="2.4" transform="rotate(-27 312.5 188.4)"/>
<ellipse cx="320" cy="184.2" rx="3" ry="1.8" transform="rotate(-27 320 184.2)"/>
<path d="M327.6,178.4L338,173.4A1.5,1.5 0 0 1 339.4,175.8L329,180.9A1.5,1.5 0 0 1 327.6,178.4Z"/>
</g>
<!-- screws 4 -->
<g class="ln" stroke-width="0.7">
<path d="M303.4,209.8L302.2,215V231.2H304.6V215Z" fill="#ddd"/>
<path d="M300.8,231.2H306.4L305.8,232.6H301.4Z" fill="#888"/>
<path d="M321,200.4L319.8,205V220.6H322.2V205Z" fill="#ddd"/>
<path d="M318.4,220.6H323.8L323.2,222H319Z" fill="#888"/>
</g>
</g>

<!-- ========== DASHED AXES ========== -->
<g class="dash">
<line x1="293.8" y1="189" x2="293.8" y2="290.5"/>
<line x1="303.5" y1="163.6" x2="303.5" y2="209.8"/>
<line x1="321" y1="153.6" x2="321" y2="200.4"/>
<line x1="330.2" y1="159.8" x2="330.2" y2="290.5"/>
<line x1="287.4" y1="252.6" x2="287.4" y2="391.5"/>
<line x1="337.6" y1="252.6" x2="337.6" y2="392.5"/>
</g>

<!-- rotation arrows upper -->
<g class="ln" stroke-width="0.75">
<path d="M277.6,238.8C279,235.4 290,234.4 294,237.2C297.6,239.8 293,243.4 287.4,243.4M291.4,241.2L287.2,243.4L291.6,245.2"/>
<path d="M320.4,238.8C321.8,235.4 332.8,234.4 336.8,237.2C340.4,239.8 335.8,243.4 330.2,243.4M334.2,241.2L330,243.4L334.4,245.2"/>
</g>

<!-- ========== WIRES ========== -->
<g fill="none" stroke-width="0.85">
<path d="M293.5,279.6C294.9,277.9 299.3,273.6 302.0,269.6C304.7,265.6 307.3,259.3 309.6,255.8C311.9,252.3 313.7,250.2 315.8,248.8C317.9,247.4 319.4,247.3 322.0,247.3C324.6,247.3 327.9,248.3 331.2,248.8C334.5,249.3 339.2,250.5 342.0,250.4C344.8,250.3 346.2,249.7 348.0,248.0C349.8,246.3 351.1,242.8 352.7,240.4C354.2,238.0 355.5,235.2 357.3,233.5C359.1,231.8 362.5,230.9 363.5,230.4" stroke="#7a2f2a"/>
<path d="M293.5,280.2C295.4,278.9 302.1,275.5 305.0,272.7C307.9,269.9 309.3,266.4 311.2,263.5C313.1,260.6 314.7,256.9 316.5,255.0C318.3,253.2 319.1,252.8 322.0,252.4C324.9,252.0 330.1,252.4 334.2,252.4C338.3,252.4 342.9,253.2 346.5,252.7C350.1,252.2 352.7,251.1 355.8,249.6C358.9,248.1 362.4,245.3 365.0,243.5C367.6,241.7 369.5,239.9 371.2,238.8C372.9,237.7 374.7,237.1 375.4,236.8" stroke="#3434a8"/>
<path d="M330.4,278.8C331.2,277.1 333.1,271.6 335.0,268.8C336.9,266.0 340.1,263.8 342.0,262.0C343.9,260.2 344.7,259.8 346.5,258.0C348.3,256.2 351.0,253.7 352.7,251.0C354.4,248.3 355.5,244.6 356.5,242.0C357.5,239.4 357.5,237.1 358.8,235.4C360.1,233.7 363.3,232.2 364.2,231.6" stroke="#7a2f2a"/>
<path d="M330.4,279.8C331.3,278.1 333.6,272.3 335.8,269.6C338.0,266.9 340.7,265.2 343.5,263.5C346.3,261.8 349.9,260.9 352.7,259.6C355.5,258.3 358.1,257.7 360.4,255.8C362.7,253.9 364.7,250.3 366.5,248.0C368.3,245.7 369.6,243.7 371.2,242.0C372.8,240.3 375.0,238.3 375.8,237.6" stroke="#3434a8"/>
</g>

<!-- terminal block 3D -->
<g class="ln" stroke-width="0.8" stroke="#222">
<path d="M363.4,228.6L367,224L386,228L389.6,230.6V233L377.4,240.2L363.6,231.6Z" fill="#fff"/>
<path d="M377.4,237.6L389.6,230.6M377.4,237.6V240.2"/>
<g fill="#fff"><path d="M368.8,220.0V223.8A2.7,1.5 0 0 0 374.2,223.8V220.0Z"/><ellipse cx="371.5" cy="220.0" rx="2.7" ry="1.5"/><ellipse cx="371.5" cy="220.0" rx="1.6" ry="0.9" stroke-width="0.5"/><path d="M375.3,223.5V227.3A2.7,1.5 0 0 0 380.7,227.3V223.5Z"/><ellipse cx="378.0" cy="223.5" rx="2.7" ry="1.5"/><ellipse cx="378.0" cy="223.5" rx="1.6" ry="0.9" stroke-width="0.5"/><path d="M381.5,227.3V231.1A2.7,1.5 0 0 0 386.9,231.1V227.3Z"/><ellipse cx="384.2" cy="227.3" rx="2.7" ry="1.5"/><ellipse cx="384.2" cy="227.3" rx="1.6" ry="0.9" stroke-width="0.5"/><path d="M365.0,223.0V226.8A2.7,1.5 0 0 0 370.4,226.8V223.0Z"/><ellipse cx="367.7" cy="223.0" rx="2.7" ry="1.5"/><ellipse cx="367.7" cy="223.0" rx="1.6" ry="0.9" stroke-width="0.5"/><path d="M371.5,226.2V230.0A2.7,1.5 0 0 0 376.9,230.0V226.2Z"/><ellipse cx="374.2" cy="226.2" rx="2.7" ry="1.5"/><ellipse cx="374.2" cy="226.2" rx="1.6" ry="0.9" stroke-width="0.5"/><path d="M377.7,230.0V233.8A2.7,1.5 0 0 0 383.1,233.8V230.0Z"/><ellipse cx="380.4" cy="230.0" rx="2.7" ry="1.5"/><ellipse cx="380.4" cy="230.0" rx="1.6" ry="0.9" stroke-width="0.5"/></g>
<g fill="#fff"><ellipse cx="364.6" cy="231.2" rx="1.3" ry="1.9" transform="rotate(-25 364.6 231.2)"/><ellipse cx="370.4" cy="234.4" rx="1.3" ry="1.9" transform="rotate(-25 370.4 234.4)"/><ellipse cx="376.2" cy="237.7" rx="1.3" ry="1.9" transform="rotate(-25 376.2 237.7)"/></g>
</g>

<!-- ========== PARTS 5-9 ========== -->
<g id="p5to9">
<!-- nuts 6 -->
<g class="ln" stroke-width="0.75">
<rect x="282.2" y="257.3" width="9.8" height="3.6" rx="1.2" fill="#fff"/><path d="M285.6,257.4V261M288.8,257.4V261"/>
<path d="M279.8,263.7H293.6" stroke-width="1.1" stroke="#666"/>
<rect x="332.2" y="257.3" width="9.8" height="3.6" rx="1.2" fill="#fff"/><path d="M335.4,257.4V261M338.6,257.4V261"/>
<path d="M330.4,263.7H344.6" stroke-width="1.1" stroke="#666"/>
</g>
<!-- canopy 7 -->
<path class="ln" d="M274.2,268.8H350.8V278.4Q350.8,281.4 347.8,281.4H277.2Q274.2,281.4 274.2,278.4Z"/>
<path class="ln" d="M307.6,281.4V284.2A4.5,4.5 0 0 0 316.6,284.2V281.4"/>
<!-- nuts 9 -->
<rect x="290.6" y="290.2" width="6.2" height="4.4" rx="0.8" fill="#333"/><rect x="327" y="290.2" width="6.2" height="4.4" rx="0.8" fill="#333"/>
<path d="M291,295.3H296.2M327.3,295.3H332.5" stroke="#888" stroke-width="0.8"/>
</g>
<!-- rotation arrows lower -->
<g class="ln" stroke-width="0.75">
<path d="M282.2,303.6C282.6,308.4 296,310 300.6,306.6C304.6,303.6 301,300.2 295.4,300.6M299.6,298.8L295.2,300.6L299.2,303"/>
<path d="M320.4,303.6C320.8,308.4 334.2,310 338.8,306.6C342.8,303.6 339.2,300.2 333.6,300.6M337.8,298.8L333.4,300.6L337.4,303"/>
</g>

<!-- ========== TUBES 10/11 ========== -->
<g class="ln" stroke-width="0.75" stroke="#666">
<rect x="284.2" y="313.2" width="6" height="60.2"/>
<rect x="282.8" y="316.8" width="8.8" height="50.8"/>
<path d="M285.6,318V366.6M289,318V366.6" stroke="#999" stroke-width="0.5"/>
<rect x="334.4" y="313.2" width="6.4" height="60.2"/>
<rect x="333" y="316.8" width="9.2" height="50.8"/>
<path d="M336,318V366.6M339.4,318V366.6" stroke="#999" stroke-width="0.5"/>
</g>
<!-- ========== UPPER SHADE ========== -->
<g id="shade1">
<clipPath id="c1"><path d="M352.9,329.1C353.2,331.0 353.7,336.2 354.6,340.3C355.4,344.4 356.4,348.7 358.0,353.8C359.6,358.9 361.9,366.3 363.9,370.8C365.9,375.3 368.0,378.1 369.8,380.9C371.6,383.7 373.1,385.4 374.9,387.7C376.7,390.0 379.8,393.5 380.8,394.6L409.7,394.6C410.6,393.5 413.6,390.0 415.1,387.7C416.7,385.4 417.4,383.7 419.0,380.9C420.6,378.1 422.4,375.3 424.4,370.8C426.4,366.3 429.5,358.9 431.2,353.8C433.0,348.7 434.0,344.4 434.9,340.3C435.8,336.2 436.3,331.0 436.6,329.1Z"/></clipPath>
<path class="ln" d="M351.0,328.5C351.3,330.5 351.8,336.1 352.7,340.3C353.6,344.5 354.6,348.7 356.1,353.8C357.7,358.9 360.0,366.3 362.0,370.8C364.0,375.3 366.1,378.1 367.9,380.9C369.7,383.7 371.2,385.2 373.0,387.7C374.8,390.2 377.7,394.4 378.6,395.8L411.9,395.8C412.8,394.4 415.5,390.2 417.0,387.7C418.5,385.2 419.3,383.7 420.9,380.9C422.4,378.1 424.3,375.3 426.3,370.8C428.3,366.3 431.4,358.9 433.1,353.8C434.9,348.7 435.9,344.5 436.8,340.3C437.7,336.1 438.2,330.5 438.5,328.5Z" fill="#fff"/>
<g clip-path="url(#c1)">
<rect x="350" y="328" width="90" height="70" fill="#0a0a0a"/>
<g stroke="#fff" stroke-width="2.5">
<line x1="350" y1="332.15" x2="440" y2="338.60"/>
<line x1="350" y1="344.10" x2="440" y2="351.00"/>
<line x1="350" y1="355.40" x2="440" y2="362.20"/>
<line x1="350" y1="367.40" x2="440" y2="373.50"/>
<line x1="350" y1="377.90" x2="440" y2="384.60"/>
<line x1="350" y1="389.20" x2="440" y2="395.70"/>
</g></g>
<!-- holder -->
<path class="ln" d="M377.2,397.2H412.8V399.6C405.6,402.4 400.6,408 400,415.4H389.6C389,408 384.4,402.4 377.2,399.6Z" fill="#fff"/>
<path class="ln" d="M377.4,399.5H412.6"/>
</g>

<!-- ========== ARM 12 ========== -->
<g id="arm" class="ln" stroke-width="0.75">
<!-- right loop -->
<path d="M404,424C415.4,424 421.8,432 421.8,441.6C421.8,451.2 415.4,459.2 404,459.2H319"/>
<path d="M404,426.2C413.8,426.2 419.7,433.2 419.7,441.6C419.7,450 413.8,457 404,457H320.5"/>
<!-- top plate right -->
<rect x="358" y="420.1" width="46.2" height="5.9" fill="#fff"/>
<rect x="391.4" y="416.4" width="7.4" height="3.7" fill="#fff"/>
<!-- left loop -->
<path d="M350,418.4H265.2A17.3,17.3 0 0 0 265.2,453"/>
<path d="M349,420.8H265.4A14.9,14.9 0 0 0 262.6,450.3"/>
<!-- bottom plate left -->
<rect x="265.8" y="453" width="46" height="4.7" fill="#fff"/>
<!-- S curve -->
<path d="M350,418.4L351,420.2C345.4,420.8 341.6,422.6 339.8,425.2C336,430.6 334,440 330,446C327,450.6 322.4,452 318.6,452"/>
<path d="M350.8,422.6C346.6,423.4 344,425 342.8,427.2C339.6,432.6 338.4,443 333.2,449C329.8,453.2 325,457 319.4,457.2"/>
<circle cx="354.4" cy="423.1" r="3.6" fill="#fff"/>
<circle cx="315" cy="454.6" r="3.6" fill="#fff"/>
</g>

<!-- ========== SOCKET 13 / THREAD 14 ========== -->
<g id="socket">
<rect x="270.8" y="457.8" width="7.4" height="3.6" fill="#fff" stroke="#3a3a3a" stroke-width="0.7"/>
<ellipse cx="274.5" cy="460.4" rx="2.4" ry="1.3" fill="#666" stroke="#222" stroke-width="0.5"/>
<path class="ln" d="M269.6,462.4C271.6,461.6 277.6,461.6 279.6,462.4C280.8,469.6 285.4,475.4 292.6,478.9V481.4H257.2V478.9C264.4,475.4 268.4,469.6 269.6,462.4Z" fill="#fff"/>
<path class="ln" d="M257.4,479H292.4"/>
<g>
<rect x="265" y="481.6" width="8.5" height="20" fill="#555"/>
<rect x="277.3" y="481.6" width="7.7" height="20" fill="#555"/>
<rect x="265" y="494.8" width="20" height="6.8" fill="#555"/>
<path d="M265,483.8H285M265,486.2H285M265,488.6H285M265,491H285M265,493.4H285M265,495.8H285M265,498.2H285M265,500.4H285" stroke="#aaa" stroke-width="0.6"/>
<rect x="273.5" y="481.8" width="3.8" height="13" fill="#fff"/>
</g>
</g>

<!-- ========== LOWER SHADE 15 ========== -->
<g id="shade2">
<clipPath id="c2"><path d="M259.6,519.4C258.8,520.2 256.9,522.0 254.9,524.5C252.8,527.0 249.7,530.5 247.3,534.6C244.9,538.7 242.3,544.4 240.5,549.0C238.7,553.6 237.4,558.0 236.3,562.5C235.2,567.0 234.2,572.6 233.7,576.1C233.2,579.6 233.3,582.5 233.2,583.8L317.1,583.8C317.0,582.5 316.9,579.6 316.3,576.1C315.7,572.6 314.8,567.0 313.7,562.5C312.6,558.0 311.3,553.6 309.5,549.0C307.7,544.4 305.1,538.7 302.7,534.6C300.3,530.5 297.2,527.0 295.1,524.5C293.1,522.0 291.2,520.2 290.4,519.4Z"/></clipPath>
<path class="ln" d="M259.8,517.2C258.7,518.4 255.4,521.6 253.0,524.5C250.6,527.4 247.8,530.5 245.4,534.6C243.0,538.7 240.4,544.4 238.6,549.0C236.8,553.6 235.5,558.0 234.4,562.5C233.3,567.0 232.3,572.3 231.8,576.1C231.3,579.9 231.4,583.9 231.3,585.4L319.0,585.4C318.9,583.9 318.8,579.9 318.2,576.1C317.6,572.3 316.7,567.0 315.6,562.5C314.5,558.0 313.2,553.6 311.4,549.0C309.6,544.4 307.0,538.7 304.6,534.6C302.2,530.5 299.4,527.4 297.0,524.5C294.6,521.6 291.3,518.4 290.2,517.2Z" fill="#fff"/>
<path d="M258.6,518.6H291.4" stroke="#888" stroke-width="0.5" fill="none"/>
<g clip-path="url(#c2)">
<rect x="228" y="517" width="94" height="70" fill="#0a0a0a"/>
<g stroke="#fff" stroke-width="2.4">
<line x1="228" y1="523.80" x2="322" y2="519.20"/>
<line x1="228" y1="537.20" x2="322" y2="529.30"/>
<line x1="228" y1="547.30" x2="322" y2="541.65"/>
<line x1="228" y1="559.35" x2="322" y2="553.50"/>
<line x1="228" y1="570.60" x2="322" y2="564.76"/>
<line x1="228" y1="581.85" x2="322" y2="575.86"/>
</g></g>
</g>

<!-- ========== RING 16 + ARROW ========== -->
<g id="ring">
<path d="M258.8,602.4H290.8L289.2,608.6H260.4Z" fill="#5a5a5a"/>
<path d="M258.8,603H290.8" stroke="#333" stroke-width="1.2"/>
<g fill="#fff"><rect x="261.6" y="604.8" width="1.1" height="2.8"/><rect x="263.7" y="604.8" width="1.1" height="2.8"/><rect x="265.7" y="604.8" width="1.1" height="2.8"/><rect x="267.8" y="604.8" width="1.1" height="2.8"/><rect x="269.8" y="604.8" width="1.1" height="2.8"/><rect x="271.9" y="604.8" width="1.1" height="2.8"/><rect x="274.0" y="604.8" width="1.1" height="2.8"/><rect x="276.0" y="604.8" width="1.1" height="2.8"/><rect x="278.1" y="604.8" width="1.1" height="2.8"/><rect x="280.1" y="604.8" width="1.1" height="2.8"/><rect x="282.2" y="604.8" width="1.1" height="2.8"/><rect x="284.3" y="604.8" width="1.1" height="2.8"/><rect x="286.3" y="604.8" width="1.1" height="2.8"/><rect x="288.4" y="604.8" width="1.1" height="2.8"/></g>
<path class="ln" d="M255.6,629.4C257,636.4 274,639.4 286.4,635.6C297.4,632.2 297.4,625.4 287,622.6C283.6,621.6 279.6,621 276,620.8M287.2,617.4L275.8,620.8L285,626"/>
</g>

<!-- ========== NUMBERS & LEADERS ========== -->
<g class="ln" stroke-width="0.75">
<path d="M260.4,154.2H301"/>
<path d="M260.4,179H290"/>
<path d="M260.4,199.8H281"/>
<path d="M260.4,219.6H301.2"/>
<path d="M260.4,250.8H313"/>
<path d="M260.4,259.2H282"/>
<path d="M260.4,272.6H274.2"/>
<path d="M260.4,284.4H308"/>
<path d="M260.4,292.8H290.8"/>
<path d="M260.4,323.6H282.8"/>
<path d="M260.4,338H282.8"/>
<path d="M221,436.8H247.8"/>
<path d="M221,473.8H262.6"/>
<path d="M221,498.6H265.2"/>
<path d="M221,537.2H242.4"/>
<path d="M221,605.4H259.4"/>
</g>
<g class="num">
<text x="253.3" y="159.6">1</text>
<text x="253.3" y="184.2">2</text>
<text x="253.3" y="205.2">3</text>
<text x="253.3" y="224.8">4</text>
<text x="253.3" y="255.6">5</text>
<text x="253.3" y="266.0">6</text>
<text x="253.3" y="277.9">7</text>
<text x="253.3" y="289.5">8</text>
<text x="253.3" y="299.4">9</text>
<text x="246.2" y="329.2">10</text>
<text x="246.2" y="343.6">11</text>
<text x="206.4" y="441.6">12</text>
<text x="206.4" y="478.8">13</text>
<text x="206.4" y="503.6">14</text>
<text x="206.4" y="542.4">15</text>
<text x="206.4" y="610.4">16</text>
</g>
</svg>
</body></html>
